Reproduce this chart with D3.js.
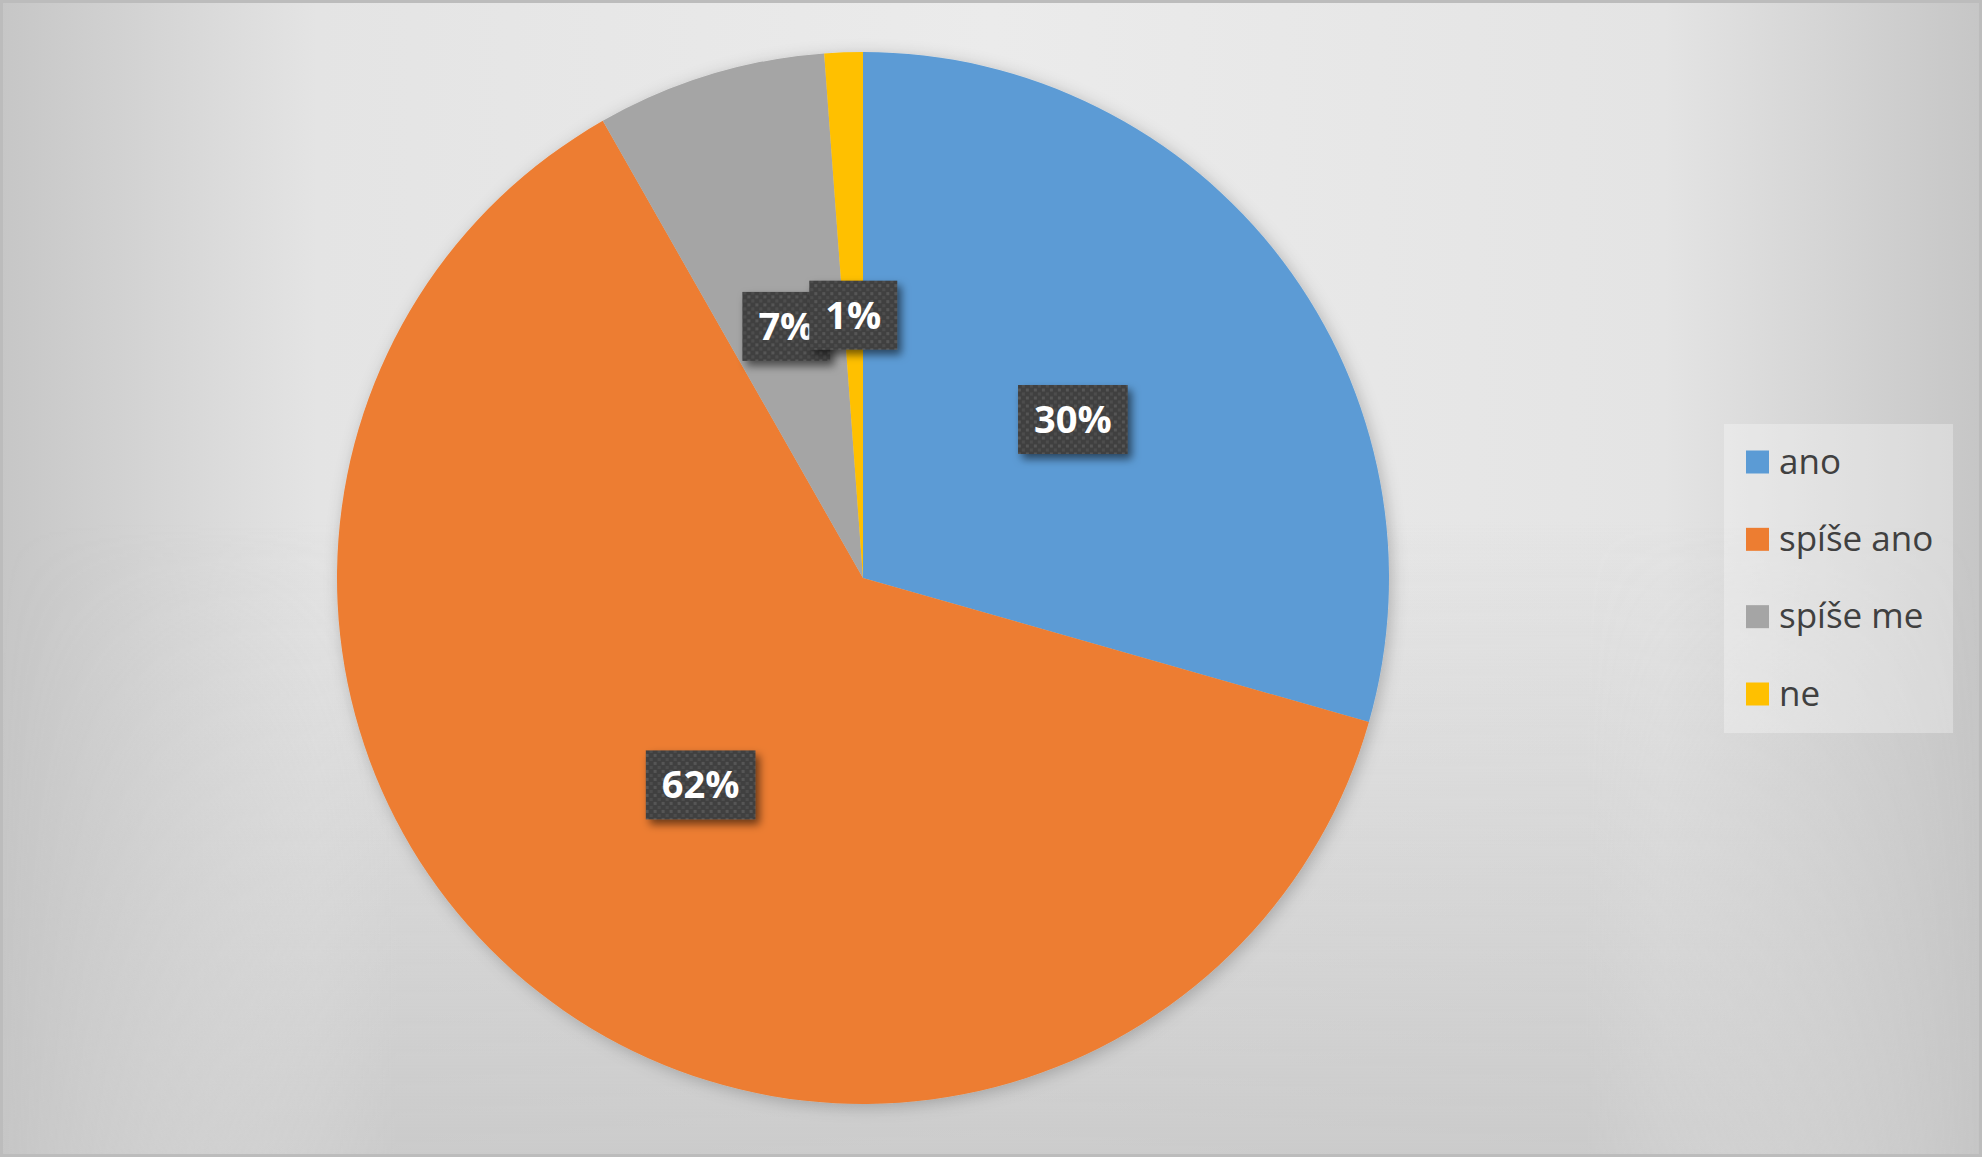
<!DOCTYPE html>
<html>
<head>
<meta charset="utf-8">
<script src="https://cdn.jsdelivr.net/npm/d3@7/dist/d3.min.js"></script>
<style>
  html, body { margin: 0; padding: 0; background: #d0d0d0; }
  svg { display: block; }
</style>
</head>
<body>
<svg id="chart" width="1982" height="1157"></svg>
<script>
// ---- data ----
const categories = ["ano", "spíše ano", "spíše me", "ne"];
const counts = [25, 53, 6, 1];
const labels = ["30%", "62%", "7%", "1%"];
const colors = ["#5B9BD5", "#ED7D31", "#A5A5A5", "#FFC000"];

const W = 1982, H = 1157;
const svg = d3.select("#chart");
const defs = svg.append("defs");

// background gradients
const hg = defs.append("linearGradient").attr("id", "hg").attr("x1", 0).attr("x2", 1).attr("y1", 0).attr("y2", 0);
[[0, "#c6c6c6"], [0.16, "#e4e4e4"], [0.5, "#ebebeb"], [0.84, "#e4e4e4"], [1, "#c6c6c6"]]
  .forEach(([o, c]) => hg.append("stop").attr("offset", o).attr("stop-color", c));
const vg = defs.append("linearGradient").attr("id", "vg").attr("x1", 0).attr("x2", 0).attr("y1", 0).attr("y2", 1);
[[0, 0], [0.45, 0], [1, 0.8]]
  .forEach(([o, a]) => vg.append("stop").attr("offset", o).attr("stop-color", "#c4c4c4").attr("stop-opacity", a));
const mg = defs.append("linearGradient").attr("id", "mg").attr("x1", 0).attr("x2", 1).attr("y1", 0).attr("y2", 0);
[[0, "#000"], [0.2, "#fff"], [0.8, "#fff"], [1, "#000"]]
  .forEach(([o, c]) => mg.append("stop").attr("offset", o).attr("stop-color", c));
defs.append("mask").attr("id", "hmask")
  .append("rect").attr("width", W).attr("height", H).attr("fill", "url(#mg)");

// label pattern
const pat = defs.append("pattern").attr("id", "dots").attr("patternUnits", "userSpaceOnUse")
  .attr("width", 8).attr("height", 8);
pat.append("rect").attr("width", 8).attr("height", 8).attr("fill", "#404040");
pat.append("rect").attr("x", 1).attr("y", 1).attr("width", 3).attr("height", 3).attr("fill", "#565656");
pat.append("rect").attr("x", 5).attr("y", 5).attr("width", 3).attr("height", 3).attr("fill", "#4e4e4e");

// shadows
const f1 = defs.append("filter").attr("id", "lblShadow").attr("x", "-30%").attr("y", "-30%").attr("width", "170%").attr("height", "170%");
f1.append("feDropShadow").attr("dx", 4).attr("dy", 5).attr("stdDeviation", 4).attr("flood-color", "#000").attr("flood-opacity", 0.55);
const f2 = defs.append("filter").attr("id", "pieShadow").attr("x", "-10%").attr("y", "-10%").attr("width", "120%").attr("height", "120%");
f2.append("feDropShadow").attr("dx", 3).attr("dy", 3).attr("stdDeviation", 8).attr("flood-color", "#000").attr("flood-opacity", 0.22);

// background
svg.append("rect").attr("width", W).attr("height", H).attr("fill", "url(#hg)");
svg.append("rect").attr("width", W).attr("height", H).attr("fill", "url(#vg)").attr("mask", "url(#hmask)");
svg.append("rect").attr("x", 1.5).attr("y", 1.5).attr("width", W - 3).attr("height", H - 3)
  .attr("fill", "none").attr("stroke", "#bcbcbc").attr("stroke-width", 3);

// pie
const cx = 863, cy = 578, R = 526;
const pie = d3.pie().sort(null).value(d => d)(counts);
const arc = d3.arc().innerRadius(0).outerRadius(R);
const g = svg.append("g").attr("transform", `translate(${cx},${cy})`);
g.append("g").attr("filter", "url(#pieShadow)")
  .selectAll("path").data(pie).join("path")
  .attr("d", arc)
  .attr("fill", (d, i) => colors[i]);

// data labels
const labelArc = d3.arc().innerRadius(R * 0.5).outerRadius(R * 0.5);
const fs = 38;
const lg = g.append("g").selectAll("g").data(pie).join("g")
  .attr("transform", d => { const [x, y] = labelArc.centroid(d); return `translate(${x},${y})`; });
lg.each(function (d, i) {
  const s = d3.select(this);
  const rect = s.append("rect").attr("fill", "url(#dots)").attr("filter", "url(#lblShadow)");
  const t = s.append("text")
    .attr("text-anchor", "middle")
    .attr("y", fs * 0.357)
    .attr("font-family", "'Open Sans', sans-serif")
    .attr("font-weight", 700)
    .attr("font-size", fs)
    .attr("fill", "#ffffff")
    .text(labels[i]);
  const w = t.node().getComputedTextLength() + 32;
  rect.attr("x", -w / 2).attr("y", -34.5).attr("width", w).attr("height", 69);
});

// legend
const legX = 1724, legY = 424, legW = 229, legH = 309;
svg.append("rect").attr("x", legX).attr("y", legY).attr("width", legW).attr("height", legH)
  .attr("fill", "#ffffff").attr("fill-opacity", 0.3);
const ys = d3.scalePoint().domain(categories).range([462, 694]);
const items = svg.append("g").selectAll("g").data(categories).join("g")
  .attr("transform", d => `translate(0,${ys(d)})`);
items.append("rect").attr("x", 1746).attr("y", -11.5).attr("width", 23).attr("height", 23)
  .attr("fill", (d, i) => colors[i]);
items.append("text").attr("x", 1779).attr("y", 11.5)
  .attr("font-family", "'Open Sans', sans-serif").attr("font-size", 35).attr("fill", "#404040")
  .text(d => d);
</script>
</body>
</html>
